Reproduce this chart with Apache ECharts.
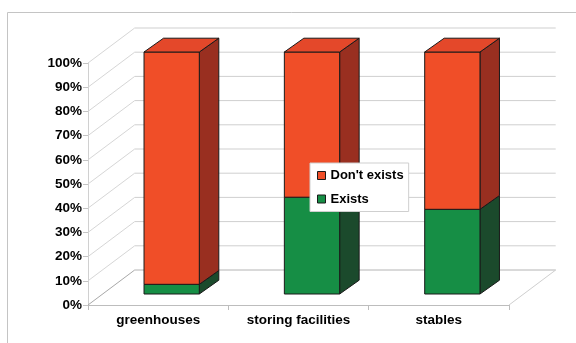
<!DOCTYPE html>
<html><head><meta charset="utf-8">
<script src="https://cdn.jsdelivr.net/npm/echarts@6/dist/echarts.min.js"></script>
<style>html,body{margin:0;padding:0;background:#fff}#c{width:576px;height:343px}</style>
</head><body><div id="c"></div>
<script>
const categories = ['greenhouses', 'storing facilities', 'stables'];
const existsValues = [0.04, 0.40, 0.35];
const dontExistsValues = [0.96, 0.60, 0.65];
const seriesNames = ["Don't exists", 'Exists'];
const yTickValues = [0, 0.1, 0.2, 0.3, 0.4, 0.5, 0.6, 0.7, 0.8, 0.9, 1.0];

const FONT = '"Liberation Sans", Arial, sans-serif';
const FS = 13.5;
const WALL = [46.7, -35];      // depth of the 3D walls
const BAR_OFF = [13.5, -11];   // bar front plane offset
const BAR_DEP = [19.5, -13.8]; // bar depth
const BAR_W = 0.394;           // fraction of band
const EDGE = '#1a1a1a';

const COLORS = {
  "Don't exists": { front: '#F04E28', side: '#992F20', top: '#E4482A' },
  'Exists': { front: '#168E45', side: '#1B4A2C', top: '#1A7A3C' }
};

function makeBox(name, drawTop) {
  const c = COLORS[name];
  return function (params, api) {
    const i = api.value(0), lo = api.value(1), hi = api.value(2);
    const pLo = api.coord([i, lo]);
    const pHi = api.coord([i, hi]);
    const band = api.size([1, 0])[0];
    const w = band * BAR_W;
    const fx = pLo[0] + BAR_OFF[0] - w / 2;
    const yLo = pLo[1] + BAR_OFF[1], yHi = pHi[1] + BAR_OFF[1];
    const dx = BAR_DEP[0], dy = BAR_DEP[1];
    const st = (fill) => ({ fill: fill, stroke: EDGE, lineWidth: 1, lineJoin: 'round' });
    const children = [
      { type: 'polygon', shape: { points: [[fx + w, yHi], [fx + w + dx, yHi + dy], [fx + w + dx, yLo + dy], [fx + w, yLo]] }, style: st(c.side) },
      { type: 'polygon', shape: { points: [[fx, yHi], [fx + w, yHi], [fx + w, yLo], [fx, yLo]] }, style: st(c.front) }
    ];
    if (drawTop) {
      children.push({ type: 'polygon', shape: { points: [[fx, yHi], [fx + w, yHi], [fx + w + dx, yHi + dy], [fx + dx, yHi + dy]] }, style: st(c.top) });
    }
    return { type: 'group', children: children };
  };
}

function renderWalls(params, api) {
  const cs = params.coordSys;
  const v = api.value(1);
  const y = api.coord([0, v])[1];
  const L = cs.x, R = cs.x + cs.width;
  const children = [
    { type: 'line', shape: { x1: L + WALL[0], y1: y + WALL[1], x2: R + WALL[0], y2: y + WALL[1] }, style: { stroke: v === 0 ? '#b4b4b4' : '#cfcfcf', lineWidth: 1 } },
    { type: 'line', shape: { x1: L, y1: y, x2: L + WALL[0], y2: y + WALL[1] }, style: { stroke: v === 0 ? '#a8a8a8' : '#d6d6d6', lineWidth: 1 } }
  ];
  if (v === 0) {
    children.push({ type: 'line', shape: { x1: R, y1: y, x2: R + WALL[0], y2: y + WALL[1] }, style: { stroke: '#cfcfcf', lineWidth: 1 } });
  }
  return { type: 'group', children: children };
}

const existsData = categories.map((c, i) => [i, 0, existsValues[i]]);
const dontData = categories.map((c, i) => [i, existsValues[i], existsValues[i] + dontExistsValues[i]]);
const wallData = yTickValues.map(v => [0, v]);

const chart = echarts.init(document.getElementById('c'), null, { renderer: 'canvas' });
chart.setOption({
  animation: false,
  backgroundColor: '#fff',
  graphic: [
    { type: 'polyline', shape: { points: [[7.5, 343], [7.5, 12.5], [576, 12.5]] }, style: { stroke: '#c4c4c4', lineWidth: 1, fill: null }, z: 0 }
  ],
  grid: { left: 88, right: 67, top: 63, bottom: 38 },
  xAxis: {
    type: 'category', data: categories,
    axisLine: { lineStyle: { color: '#bdbdbd' } },
    axisTick: { show: true, length: 5, lineStyle: { color: '#bdbdbd' } },
    axisLabel: { margin: 8, color: '#000', fontFamily: FONT, fontWeight: 'bold', fontSize: FS }
  },
  yAxis: {
    type: 'value', min: 0, max: 1, interval: 0.1,
    axisLine: { show: true, lineStyle: { color: '#d0d0d0' } },
    axisTick: { show: true, length: 5, lineStyle: { color: '#c4c4c4' } },
    splitLine: { show: false },
    axisLabel: { margin: 6, color: '#000', fontFamily: FONT, fontWeight: 'bold', fontSize: FS,
      formatter: v => Math.round(v * 100) + '%' }
  },
  legend: {
    left: 310, top: 163, orient: 'vertical',
    padding: [5, 5, 5, 7],
    itemWidth: 8, itemHeight: 8, itemGap: 8.5,
    backgroundColor: '#fff', borderColor: '#cfcfcf', borderWidth: 1,
    textStyle: { color: '#000', fontFamily: FONT, fontWeight: 'bold', fontSize: 13, lineHeight: 15 },
    data: seriesNames.map(n => ({ name: n, icon: 'rect', itemStyle: { color: COLORS[n].front, borderColor: EDGE, borderWidth: 1 } }))
  },
  series: [
    { type: 'custom', name: 'walls', renderItem: renderWalls, data: wallData, silent: true, z: 1, clip: false },
    { type: 'custom', name: 'Exists', renderItem: makeBox('Exists', false), data: existsData, itemStyle: { color: COLORS['Exists'].front }, z: 2, clip: false },
    { type: 'custom', name: "Don't exists", renderItem: makeBox("Don't exists", true), data: dontData, itemStyle: { color: COLORS["Don't exists"].front }, z: 2, clip: false }
  ]
});
</script></body></html>
